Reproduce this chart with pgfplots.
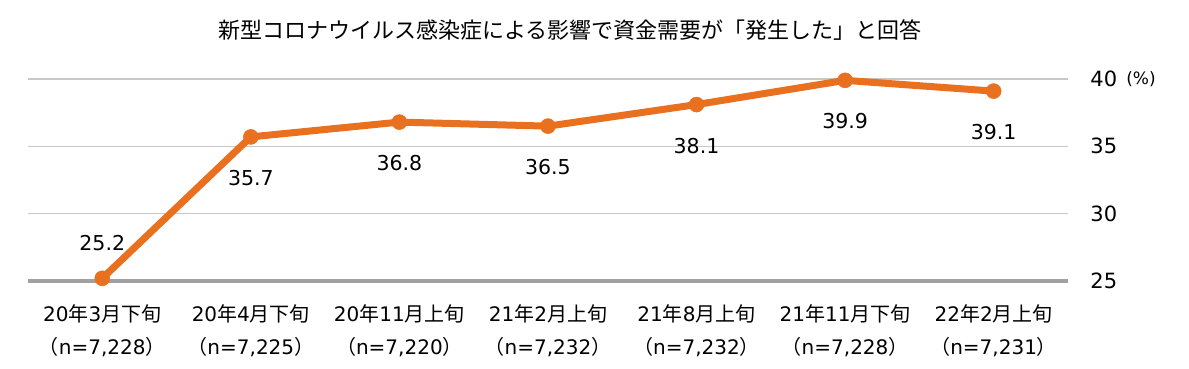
\documentclass[border=0pt]{standalone}
\usepackage{fontspec}
\setmainfont{Noto Sans CJK JP}
\newfontfamily\numfont{DejaVu Sans}
\usepackage{pgfplots}
\pgfplotsset{compat=1.18}
\definecolor{orng}{HTML}{E8701E}
\definecolor{gridc}{HTML}{C8C8C8}
\definecolor{basec}{HTML}{A0A0A0}
\newcommand{\n}[1]{{\numfont #1}}
\begin{document}
\begin{tikzpicture}
\useasboundingbox (-28pt,-88pt) rectangle (1161pt,281pt);
\begin{axis}[
  at={(0,0)}, anchor=south west,
  scale only axis, width=1040pt, height=202pt,
  xmin=-0.5, xmax=6.5, ymin=25, ymax=40,
  clip=false,
  axis line style={draw=none},
  tick style={draw=none},
  major tick length=0pt,
  ytick={30,35,40},
  extra y ticks={25},
  extra y tick style={grid style={color=basec, line width=4pt}},
  ymajorgrids,
  grid style={color=gridc, line width=1.6pt},
  yticklabel pos=right,
  /pgf/number format/assume math mode=true,
  yticklabel style={font=\numfont\fontsize{21}{24}\selectfont, anchor=west, xshift=19pt},
  xtick={0,1,2,3,4,5,6},
  xticklabels={{\n{20}年\n{3}月下旬\\（\n{n=7,228}）},{\n{20}年\n{4}月下旬\\（\n{n=7,225}）},{\n{20}年\n{11}月上旬\\（\n{n=7,220}）},{\n{21}年\n{2}月上旬\\（\n{n=7,232}）},{\n{21}年\n{8}月上旬\\（\n{n=7,232}）},{\n{21}年\n{11}月下旬\\（\n{n=7,228}）},{\n{22}年\n{2}月上旬\\（\n{n=7,231}）}},
  xticklabel style={align=center, font=\fontsize{20}{33}\selectfont, yshift=-20pt},
]
\addplot[color=orng, line width=7pt, mark=*, mark size=7.5pt, mark options={line width=0.5pt, fill=orng, draw=orng}]
  coordinates {(0,25.2) (1,35.7) (2,36.8) (3,36.5) (4,38.1) (5,39.9) (6,39.1)};
\addplot[draw=none, mark=none, nodes near coords, point meta=explicit symbolic,
  every node near coord/.append style={anchor=center, yshift=-41pt, font=\numfont\fontsize{20.5}{24}\selectfont, text=black}]
  coordinates {(1,35.7)[35.7] (2,36.8)[36.8] (3,36.5)[36.5] (4,38.1)[38.1] (5,39.9)[39.9] (6,39.1)[39.1]};
\addplot[draw=none, mark=none, nodes near coords, point meta=explicit symbolic,
  every node near coord/.append style={anchor=center, yshift=35pt, font=\numfont\fontsize{20.5}{24}\selectfont, text=black}]
  coordinates {(0,25.2)[25.2]};
\end{axis}
\node[font=\numfont\fontsize{17}{20}\selectfont] at (1113pt,202pt) {(\%)};
\node[font=\fontsize{22}{26}\selectfont] at (542pt,251pt) {新型コロナウイルス感染症による影響で資金需要が「発生した」と回答};
\end{tikzpicture}
\end{document}
